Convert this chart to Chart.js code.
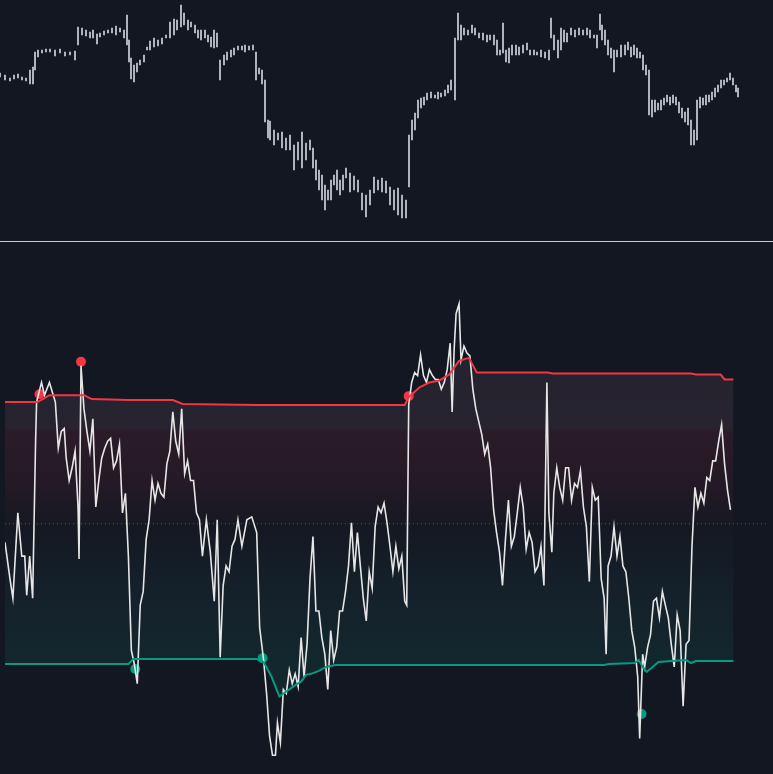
<!DOCTYPE html>
<html>
<head>
<meta charset="utf-8">
<script src="https://cdn.jsdelivr.net/npm/chart.js@4"></script>
<style>
  html, body { margin: 0; padding: 0; background: #131722; }
  #top { position: absolute; left: 0; top: 0; width: 773px; height: 241px; }
  #sep { position: absolute; left: 0; top: 241px; width: 773px; height: 1px; background: #c9cbd1; }
  #bottom { position: absolute; left: 0; top: 243px; width: 773px; height: 531px; }
</style>
</head>
<body>
<div id="top"><canvas id="priceChart"></canvas></div>
<div id="sep"></div>
<div id="bottom"><canvas id="oscChart"></canvas></div>
<script>
// price bars (screen-depth units, smaller = higher)
const barX = [0,5,10,14,18,22,26,30,33,35,38,42,46,50,55,60,65,70,75,78,82,86,90,93,97,100,104,108,112,116,120,124,127,129,131,134,137,140,144,147,150,154,158,162,166,170,174,177,181,184,188,191,195,198,201,205,208,211,214,217,220,224,227,231,234,238,242,245,249,253,256,259,262,265,268,270,274,278,282,286,290,294,298,302,306,310,313,316,319,322,325,328,331,334,337,340,343,346,350,354,358,362,366,370,374,378,382,386,390,394,398,402,406,409,412,415,418,421,424,427,431,435,438,441,445,448,451,455,458,461,464,468,472,475,479,483,487,490,494,497,500,503,506,509,512,516,519,523,527,530,534,537,541,545,549,551,554,558,561,564,567,571,575,579,583,587,590,594,597,600,602,605,608,611,614,617,621,625,628,631,634,637,640,643,646,649,652,655,658,661,664,667,670,673,676,679,682,685,688,691,694,697,700,703,706,709,712,715,718,721,724,727,730,733,736,738];
const barHigh = [73,75,78,75,74,77,78,70,67,52,50,50,49,49,50,49,52,52,51,27,28,30,32,30,34,33,31,30,28,26,28,30,15,40,58,65,63,60,55,47,41,38,40,38,35,22,19,20,5,13,20,22,25,30,30,30,35,37,30,33,60,55,52,50,48,46,46,45,46,45,52,68,70,80,120,121,130,133,132,138,135,145,142,132,143,140,148,160,170,175,185,190,180,175,170,180,175,168,173,176,180,193,195,190,177,180,178,181,187,190,188,195,200,135,120,113,100,98,97,93,92,95,92,93,90,85,80,38,13,25,28,30,25,28,33,33,35,35,35,40,50,23,50,48,45,45,47,45,43,50,50,52,50,52,50,18,35,40,28,30,33,28,30,28,30,28,30,35,35,14,25,30,40,48,50,50,45,45,42,47,45,48,52,55,65,70,100,100,103,100,98,95,97,95,97,102,108,112,108,120,130,100,97,98,95,95,92,88,85,80,80,78,73,78,85,88];
const barLow = [77,80,81,79,78,80,81,84,84,70,57,53,52,52,56,53,56,55,60,45,35,36,38,38,44,37,35,33,33,35,32,38,45,62,79,82,72,65,62,50,50,47,46,44,38,38,35,30,27,25,30,27,33,38,40,38,42,47,48,47,80,65,60,57,55,50,50,52,50,50,80,74,84,122,138,140,145,140,148,150,150,170,160,168,160,150,168,180,190,200,210,200,200,185,190,195,190,178,192,190,192,210,217,205,193,190,192,193,205,210,215,218,218,187,140,130,118,108,105,100,98,98,99,97,96,93,90,100,40,40,35,35,33,35,38,40,42,40,45,55,55,53,62,63,55,55,55,53,50,55,55,55,57,58,60,38,50,58,50,42,42,35,37,35,35,35,38,38,48,30,40,45,55,58,72,57,57,55,50,57,55,58,58,70,75,115,117,112,110,110,105,102,105,103,105,113,118,122,125,145,145,140,108,105,105,102,100,97,92,88,85,82,80,85,92,97];

// oscillator (screen-depth units)
const oscX = [0,5,8,13,17,20,22,25,28,31,32,34,37,40,45,48,51,54,57,60,62,65,68,71,74,75,77,80,83,86,89,92,95,98,101,104,107,110,113,116,119,122,125,128,131,134,137,140,143,146,149,152,155,158,161,164,167,170,173,176,179,182,185,188,191,194,197,200,204,208,212,215,218,221,224,227,230,233,236,240,245,250,255,258,262,265,268,271,274,276,279,282,285,288,291,294,297,300,303,306,309,312,315,318,321,324,327,330,333,336,339,342,345,348,351,354,357,360,363,366,369,372,375,378,381,384,387,390,393,396,399,402,405,407,409,412,415,418,421,424,427,430,433,436,439,442,445,448,451,453,455,457,460,462,465,468,471,474,477,480,483,486,489,492,495,498,501,504,507,510,513,516,519,522,525,528,531,534,537,540,543,546,549,551,554,556,559,562,565,568,571,574,577,580,583,586,589,592,595,598,601,604,607,609,611,614,617,620,623,626,629,632,635,638,641,643,646,648,651,654,657,660,663,666,669,672,675,678,681,684,687,690,693,696,699,702,705,708,711,714,717,720,723,726,729,732,735,738];
const oscY = [543,580,600,513,557,557,597,557,600,440,400,392,380,393,380,390,400,447,430,427,457,480,467,450,507,560,363,407,430,450,417,507,480,457,447,440,437,467,460,443,513,493,557,653,667,687,607,593,540,520,480,500,483,493,497,463,450,410,440,453,407,473,460,480,480,513,520,557,520,553,603,520,660,587,567,573,547,540,520,547,520,517,533,630,663,697,740,760,760,727,747,693,697,673,687,677,690,640,680,647,580,537,613,613,640,657,693,633,663,650,613,613,593,567,523,573,533,567,600,623,573,590,527,507,513,503,523,547,573,547,570,557,603,607,403,380,370,373,352,373,380,367,373,377,377,387,380,367,340,410,347,310,300,357,343,350,353,387,407,420,433,453,443,467,510,533,553,587,540,500,547,537,513,487,507,550,533,543,573,567,547,587,380,513,553,493,467,487,500,467,467,500,483,487,470,507,527,583,487,500,497,580,600,657,567,557,527,557,537,567,573,600,633,650,680,743,657,670,650,637,603,600,620,593,607,620,647,670,617,633,710,647,643,547,487,507,493,503,477,480,460,460,440,423,463,490,510];

// bands
const bandX = [0,33,40,45,80,88,125,130,170,180,255,262,270,278,285,295,300,305,310,318,325,335,405,409,420,430,440,450,460,470,478,482,550,555,607,612,638,642,646,650,655,662,690,695,700,725,729,738];
const upperBand = [400,400,396,393,393,397,398,398,398,402,403,403,403,403,403,403,403,403,403,403,403,403,403,395,385,380,378,372,358,355,370,370,370,371,371,371,371,371,371,371,371,371,371,371,372,372,377,377];
const lowerBand = [667,667,667,667,667,667,667,662,662,662,662,665,680,700,695,688,685,678,677,674,670,668,668,668,668,668,668,668,668,668,668,668,668,668,668,667,666,663,670,675,671,665,663,666,664,664,664,664];
const midLevel = 524;

// signal dots
const highX = [35,77,409];
const highY = [392,359,394];
const lowX = [132,261,645];
const lowY = [672,661,718];

const pts = (xs, ys) => xs.map((x, i) => ({ x: x, y: ys[i] }));

const priceCtx = document.getElementById("priceChart");
new Chart(priceCtx, {
  type: "bar",
  data: {
    datasets: [{
      data: barX.map((x, i) => ({ x: x, y: [barLow[i], barHigh[i]] })),
      backgroundColor: "#d1d4dc",
      borderWidth: 0,
      barThickness: 1,
    }],
  },
  options: {
    responsive: true,
    maintainAspectRatio: false,
    animation: false,
    layout: { padding: 0 },
    plugins: { legend: { display: false }, tooltip: { enabled: false } },
    scales: {
      x: { type: "linear", min: 0, max: 773, offset: false, display: false },
      y: { min: 0, max: 241, reverse: true, display: false },
    },
  },
});

function bandFill(context) {
  const chart = context.chart;
  if (!chart.chartArea) return "rgba(0,0,0,0)";
  const y = chart.scales.y;
  const g = chart.ctx.createLinearGradient(0, y.getPixelForValue(372), 0, y.getPixelForValue(668));
  g.addColorStop(0, "#25232f");
  g.addColorStop(0.18, "#272430");
  g.addColorStop(0.2, "#2b1b28");
  g.addColorStop(0.38, "#231a25");
  g.addColorStop(0.53, "#151822");
  g.addColorStop(0.72, "#14202a");
  g.addColorStop(1, "#13272e");
  return g;
}

const oscCtx = document.getElementById("oscChart");
new Chart(oscCtx, {
  type: "line",
  data: {
    datasets: [
      {
        data: pts(bandX, upperBand),
        borderColor: "#f23645",
        borderWidth: 2,
        pointRadius: 0,
        fill: "+1",
        backgroundColor: bandFill,
      },
      {
        data: pts(bandX, lowerBand),
        borderColor: "#089981",
        borderWidth: 2,
        pointRadius: 0,
        fill: false,
      },
      {
        data: [{ x: 0, y: midLevel }, { x: 773, y: midLevel }],
        borderColor: "rgba(160,164,174,0.45)",
        borderWidth: 1,
        borderDash: [1, 3],
        pointRadius: 0,
        fill: false,
      },
      {
        data: pts(oscX, oscY),
        borderColor: "#e6e6e6",
        borderWidth: 1.6,
        pointRadius: 0,
        fill: false,
      },
      {
        type: "scatter",
        data: pts(highX, highY),
        backgroundColor: "#f23645",
        borderWidth: 0,
        pointRadius: 5,
      },
      {
        type: "scatter",
        data: pts(lowX, lowY),
        backgroundColor: "#089981",
        borderWidth: 0,
        pointRadius: 5,
      },
    ],
  },
  options: {
    responsive: true,
    maintainAspectRatio: false,
    animation: false,
    layout: { padding: 0 },
    plugins: {
      legend: { display: false },
      tooltip: { enabled: false },
      filler: { drawTime: "beforeDatasetsDraw" },
    },
    scales: {
      x: { type: "linear", min: 0, max: 773, display: false },
      y: { min: 243, max: 774, reverse: true, display: false },
    },
  },
});
</script>
</body>
</html>
